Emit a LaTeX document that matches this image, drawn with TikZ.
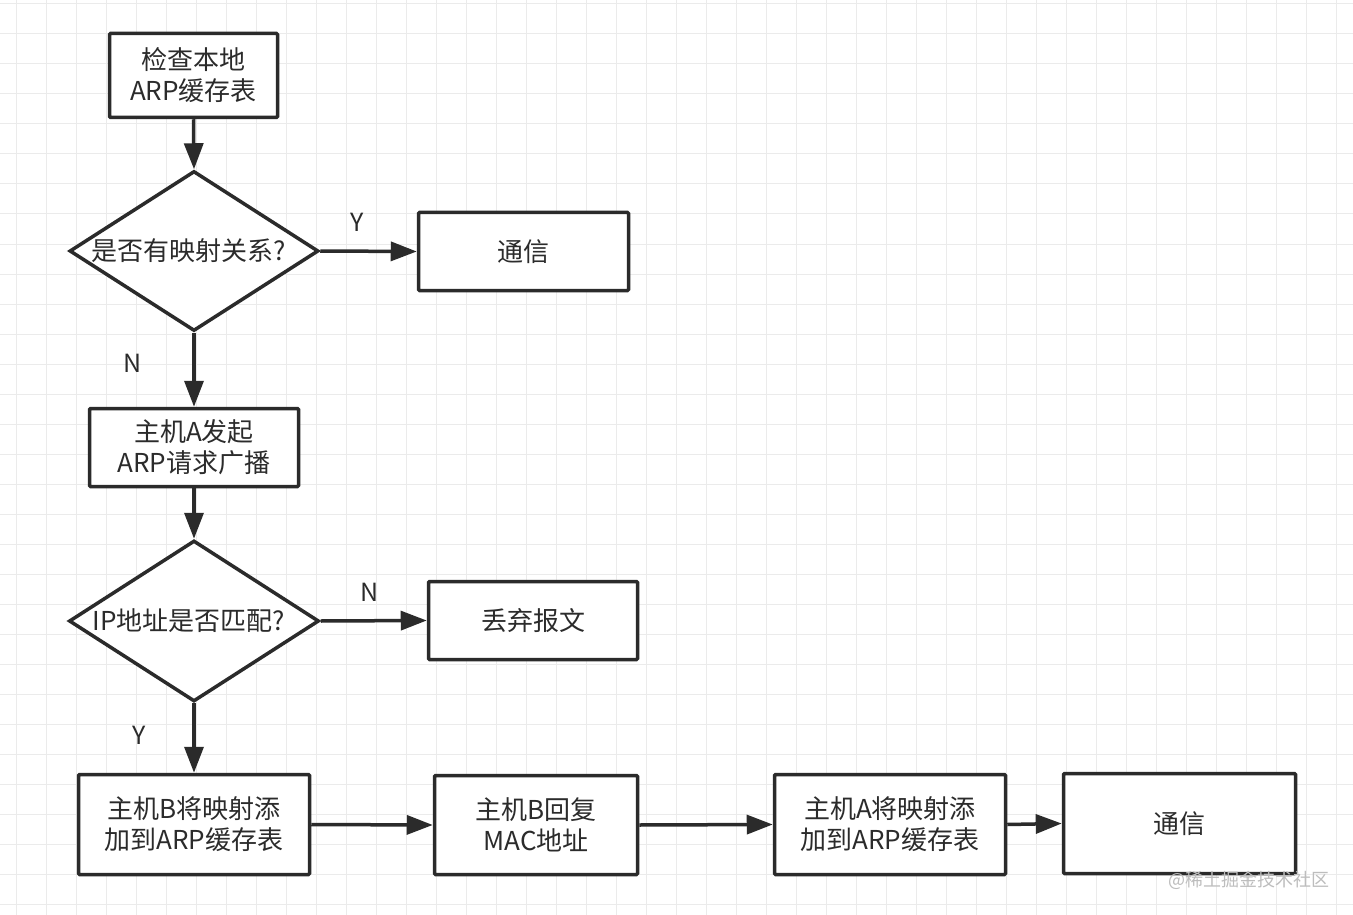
\documentclass[tikz,border=0pt]{standalone}
\usepackage{fontspec}
\setmainfont{Noto Sans CJK SC}
\usetikzlibrary{shapes.geometric,arrows.meta}
\definecolor{ink}{HTML}{2B2B2B}
\definecolor{gridc}{HTML}{EBEBEB}
\definecolor{wm}{HTML}{BDBDBD}
\begin{document}
\begin{tikzpicture}[x=1pt,y=-1pt,
  box/.style={draw=ink,line width=3.5pt,fill=white,rectangle,rounded corners=1pt,inner sep=0pt,align=center,text=ink,font=\fontsize{26}{31}\selectfont},
  dia/.style={draw=ink,line width=3.5pt,fill=white,diamond,inner sep=0pt,line join=miter},
  dtext/.style={text=ink,font=\fontsize{26}{31}\selectfont,inner sep=0pt},
  lab/.style={text=ink,font=\fontsize{25}{28}\selectfont,inner sep=0pt},
  conn/.style={draw=ink,line width=3.5pt,-{Triangle[length=26pt,width=19pt]}}]
\useasboundingbox (0,0) rectangle (1353,915);
\fill[white] (0,0) rectangle (1353,915);
\foreach \i in {0,...,45} {\draw[gridc,line width=1pt] (16+30*\i,0) -- (16+30*\i,915);}
\foreach \j in {0,...,30} {\draw[gridc,line width=1pt] (0,4+30*\j) -- (1353,4+30*\j);}

\node[box,minimum width=168pt,minimum height=84pt] (b1) at (193.5,75.5) {检查本地\\ARP缓存表};
\node[dia,minimum width=249pt,minimum height=160pt] (d1) at (194,251) {};
\node[dtext] (d1t) at (189,251) {是否有映射关系?};
\node[box,minimum width=210pt,minimum height=78pt] (t1) at (523.5,251.5) {通信};
\node[box,minimum width=209pt,minimum height=78pt] (b2) at (194,447.5) {主机A发起\\ARP请求广播};
\node[dia,minimum width=250pt,minimum height=161pt] (d2) at (194,621) {};
\node[dtext] (d2t) at (189,621) {IP地址是否匹配?};
\node[box,minimum width=209pt,minimum height=78pt] (t2) at (533,620.5) {丢弃报文};
\node[box,minimum width=231pt,minimum height=100pt] (b3) at (194,824.5) {主机B将映射添\\加到ARP缓存表};
\node[box,minimum width=203pt,minimum height=99pt] (b4) at (536,825) {主机B回复\\MAC地址};
\node[box,minimum width=231pt,minimum height=100pt] (b5) at (890,824.5) {主机A将映射添\\加到ARP缓存表};
\node[box,minimum width=232pt,minimum height=100pt] (b6) at (1179.5,823.5) {通信};

\draw[conn] (b1.south) -- (d1.north);
\draw[conn] (d1.east) -- (t1.west);
\draw[conn] (d1.south) -- (b2.north);
\draw[conn] (b2.south) -- (d2.north);
\draw[conn] (d2.east) -- (t2.west);
\draw[conn] (d2.south) -- (b3.north);
\draw[conn] (b3.east) -- (b4.west);
\draw[conn] (b4.east) -- (b5.west);
\draw[conn] (b5.east) -- (b6.west);

\node[lab] (ly1) at (357,222) {Y};
\node[lab] (ln1) at (133,363) {N};
\node[lab] (ln2) at (370,592) {N};
\node[lab] (ly2) at (139,735) {Y};
\node[text=wm,font=\fontsize{18}{22}\selectfont,inner sep=0pt,anchor=west] (wmk) at (1168,880) {@稀土掘金技术社区};
\end{tikzpicture}
\end{document}
